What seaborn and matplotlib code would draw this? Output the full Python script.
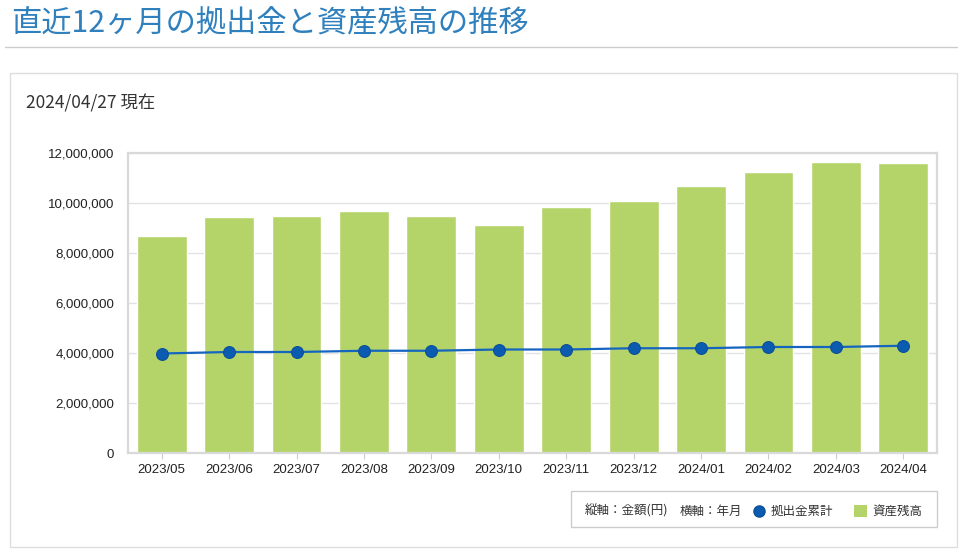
import matplotlib
matplotlib.use('Agg')
import matplotlib.pyplot as plt
import seaborn as sns
from matplotlib.patches import Rectangle
from matplotlib.lines import Line2D
from matplotlib.ticker import FuncFormatter, MultipleLocator

# data
months = ['2023/05', '2023/06', '2023/07', '2023/08', '2023/09', '2023/10',
          '2023/11', '2023/12', '2024/01', '2024/02', '2024/03', '2024/04']
balance = [8700000, 9440000, 9490000, 9690000, 9490000, 9140000,
           9840000, 10090000, 10690000, 11240000, 11640000, 11590000]
contrib = [3980000, 4040000, 4040000, 4090000, 4090000, 4140000,
           4140000, 4190000, 4190000, 4240000, 4240000, 4290000]

title = '直近12ヶ月の拠出金と資産残高の推移'
asof = '2024/04/27 現在'

BAR = '#b4d46a'
LINE = '#1565c0'

sns.set_theme(style='white')
plt.rcParams['font.family'] = ['Noto Sans CJK JP', 'DejaVu Sans']

W, H = 960, 551
fig = plt.figure(figsize=(W / 100, H / 100), dpi=100)


def fx(px):
    return px / W


def fy(py):
    return 1 - py / H


# page decorations
fig.text(fx(11), fy(24), title, fontsize=21.8, color='#2f80bd', va='center', ha='left')
fig.add_artist(Line2D([fx(5), fx(957)], [fy(47), fy(47)], color='#cccccc', lw=1,
                      transform=fig.transFigure))
fig.add_artist(Rectangle((fx(10), fy(547)), fx(947), 474 / H, fill=False,
                         edgecolor='#dddddd', lw=1, transform=fig.transFigure, zorder=-1))
fig.text(fx(26), fy(103), asof, fontsize=12.5, color='#333333', va='center', ha='left')

# chart
ax = fig.add_axes([fx(128), fy(453), fx(937) - fx(128), fy(153) - fy(453)])
sns.barplot(x=months, y=balance, color=BAR, saturation=1, width=0.74, ax=ax, zorder=2)
sns.pointplot(x=months, y=contrib, color=LINE, markers='o', markersize=8.5,
              linewidth=1.6, markeredgecolor='#0a4f98', markeredgewidth=0.8,
              markerfacecolor='#0b5cb0', errorbar=None, ax=ax)
for ln in ax.lines:
    ln.set_zorder(3)

ax.set_ylim(0, 12000000)
ax.set_xlim(-0.5, 11.5)
ax.yaxis.set_major_locator(MultipleLocator(2000000))
ax.yaxis.set_major_formatter(FuncFormatter(lambda v, p: f'{v:,.0f}'))
ax.grid(axis='y', color='#e2e2e2', lw=1, zorder=0)
ax.set_axisbelow(True)
ax.set_xlabel('')
ax.set_ylabel('')
for s in ax.spines.values():
    s.set_visible(True)
    s.set_color('#d9d9d9')
    s.set_linewidth(1.6)
ax.tick_params(axis='y', length=0, pad=10, labelsize=9.5, labelcolor='#222222')
ax.tick_params(axis='x', length=4, width=0.8, color='#cccccc', pad=4,
               labelsize=9.5, labelcolor='#222222', bottom=True)
for lab in ax.get_xticklabels() + ax.get_yticklabels():
    lab.set_fontfamily('Liberation Sans')

# legend box
fig.add_artist(Rectangle((fx(571), fy(527)), 366 / W, 36 / H, fill=False,
                         edgecolor='#cccccc', lw=1, transform=fig.transFigure))
ly = fy(511)
fig.text(fx(585), ly, '縦軸：金額(円)', fontsize=9, color='#333333', va='center')
fig.text(fx(680), ly, '横軸：年月', fontsize=9, color='#333333', va='center')
fig.add_artist(Line2D([fx(759)], [ly], marker='o', markersize=8, color='#0b5cb0',
                      markeredgecolor='#0a4f98', transform=fig.transFigure))
fig.text(fx(771), ly, '拠出金累計', fontsize=9, color='#333333', va='center')
fig.add_artist(Rectangle((fx(854), fy(517)), 13 / W, 12 / H, facecolor=BAR,
                         edgecolor='none', transform=fig.transFigure))
fig.text(fx(872), ly, '資産残高', fontsize=9, color='#333333', va='center')

fig.savefig('out.png', dpi=100)
